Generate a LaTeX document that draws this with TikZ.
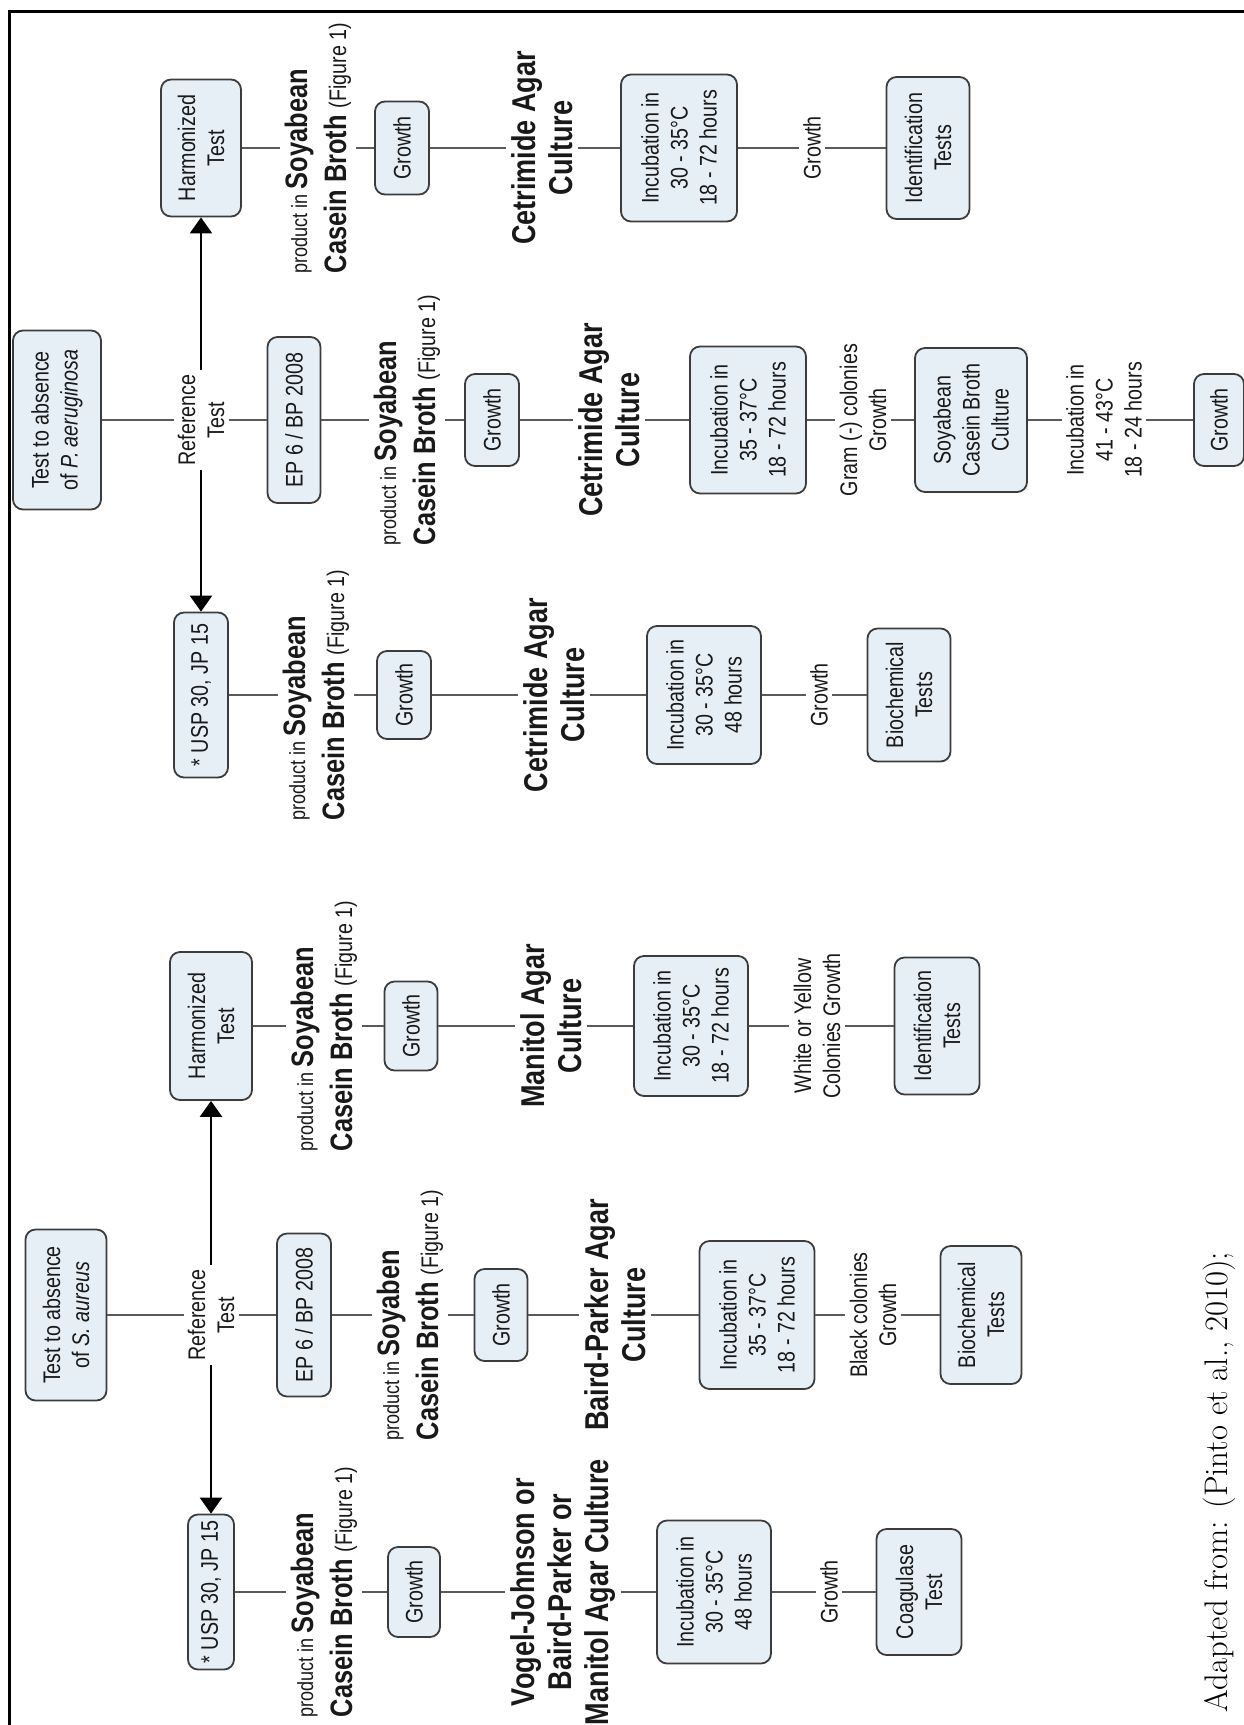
\documentclass[tikz,border=0pt]{standalone}
\usepackage{fontspec}
\setsansfont{Liberation Sans}[FakeStretch=0.82]
\usetikzlibrary{arrows.meta}
\definecolor{boxfill}{RGB}{231,239,246}
\definecolor{boxline}{RGB}{60,60,60}
\definecolor{connc}{RGB}{90,90,90}
\definecolor{ink}{RGB}{25,25,25}
\newcommand\prodtxt[1]{{\fontsize{22}{26}\selectfont product in }\textbf{#1}\\\textbf{Casein Broth} {\fontsize{24}{28}\selectfont(Figure 1)}}
\begin{document}
\begin{tikzpicture}[x=1pt,y=-1pt,
  box/.style={draw=boxline, fill=boxfill, line width=1.8pt, rounded corners=10pt, rotate=90, align=center, inner sep=2pt, text=ink, font=\sffamily\fontsize{24}{29}\selectfont},
  lbl/.style={rotate=90, align=center, inner sep=4pt, text=ink, font=\sffamily\fontsize{24}{29}\selectfont},
  big/.style={rotate=90, align=center, inner sep=5pt, text=ink, font=\sffamily\bfseries\fontsize{33}{37}\selectfont},
  prod/.style={rotate=90, align=left, inner sep=5pt, text=ink, font=\sffamily\fontsize{31}{39}\selectfont},
  ln/.style={draw=connc, line width=2pt},
  arr/.style={draw=black, line width=2.5pt, -{Triangle[width=22pt,length=16pt]}},
]
\useasboundingbox (0,0) rectangle (1244,1725);
\fill[white] (0,0) rectangle (1244,1725);
% frame
\coordinate (fTR) at (1244,11);
\coordinate (fTL) at (9,11);
\coordinate (fBL) at (9,1725);
\draw[line width=3pt, black] (fTR) -- (fTL) -- (fBL);

% ===== S. aureus: reference chain =====
\node[box, minimum width=171pt, minimum height=81pt] (saTest) at (66,1315) {Test to absence\\of \textit{S. aureus}};
\node[lbl] (saRef) at (211,1315) {Reference\\Test};
\node[box, minimum width=163pt, minimum height=54pt] (saEP) at (304,1315) {EP 6 / BP 2008};
\node[prod] (saEPp) at (410,1315) {\prodtxt{Soyaben}};
\node[box, minimum width=92pt, minimum height=53pt] (saEPg) at (501,1315) {Growth};
\node[big] (saBaird) at (615,1315) {Baird-Parker Agar\\Culture};
\node[box, minimum width=148pt, minimum height=115pt] (saEPi) at (757,1315) {Incubation in\\35 - 37°C\\18 - 72 hours};
\node[lbl] (saBlack) at (873,1315) {Black colonies\\Growth};
\node[box, minimum width=138pt, minimum height=81pt] (saBio) at (981,1315) {Biochemical\\Tests};

% S. aureus: USP chain
\node[box, minimum width=155pt, minimum height=46pt] (saUSP) at (211,1592) {* USP 30, JP 15};
\node[prod] (saUSPp) at (324,1592) {\prodtxt{Soyabean}};
\node[box, minimum width=90pt, minimum height=52pt] (saUSPg) at (414,1592) {Growth};
\node[big] (saVogel) at (563,1592) {Vogel-Johnson or\\Baird-Parker or\\Manitol Agar Culture};
\node[box, minimum width=143pt, minimum height=114pt] (saUSPi) at (714,1592) {Incubation in\\30 - 35°C\\48 hours};
\node[lbl] (saUSPgt) at (829,1592) {Growth};
\node[box, minimum width=126pt, minimum height=85pt] (saCoag) at (919,1592) {Coagulase\\Test};

% S. aureus: harmonized chain
\node[box, minimum width=148pt, minimum height=82pt] (saHarm) at (211,1026) {Harmonized\\Test};
\node[prod] (saHarmp) at (324,1026) {\prodtxt{Soyabean}};
\node[box, minimum width=89pt, minimum height=53pt] (saHarmg) at (411,1026) {Growth};
\node[big] (saMan) at (551,1026) {Manitol Agar\\Culture};
\node[box, minimum width=140pt, minimum height=114pt] (saHarmi) at (691,1026) {Incubation in\\30 - 35°C\\18 - 72 hours};
\node[lbl] (saWhite) at (817,1026) {White or Yellow\\Colonies Growth};
\node[box, minimum width=137pt, minimum height=85pt] (saId) at (937,1026) {Identification\\Tests};

% ===== P. aeruginosa: reference chain =====
\node[box, minimum width=179pt, minimum height=88pt] (paTest) at (57,420) {Test to absence\\of \textit{P. aeruginosa}};
\node[lbl] (paRef) at (201,420) {Reference\\Test};
\node[box, minimum width=166pt, minimum height=53pt] (paEP) at (294,420) {EP 6 / BP 2008};
\node[prod] (paEPp) at (407,420) {\prodtxt{Soyabean}};
\node[box, minimum width=92pt, minimum height=54pt] (paEPg) at (492,420) {Growth};
\node[big] (paEPc) at (609,420) {Cetrimide Agar\\Culture};
\node[box, minimum width=147pt, minimum height=116pt] (paEPi) at (748,420) {Incubation in\\35 - 37°C\\18 - 72 hours};
\node[lbl] (paGram) at (863,420) {Gram (-) colonies\\Growth};
\node[box, minimum width=144pt, minimum height=112pt] (paSCB) at (971,420) {Soyabean\\Casein Broth\\Culture};
\node[lbl] (paInc) at (1104,420) {Incubation in\\41 - 43°C\\18 - 24 hours};
\node[box, minimum width=92pt, minimum height=50pt] (paG2) at (1219,420) {Growth};

% P. aeruginosa: harmonized chain
\node[box, minimum width=137pt, minimum height=80pt] (paHarm) at (201,148) {Harmonized\\Test};
\node[prod] (paHarmp) at (318,148) {\prodtxt{Soyabean}};
\node[box, minimum width=93pt, minimum height=54pt] (paHarmg) at (402,148) {Growth};
\node[big] (paHarmc) at (542,148) {Cetrimide Agar\\Culture};
\node[box, minimum width=147pt, minimum height=116pt] (paHarmi) at (679,148) {Incubation in\\30 - 35°C\\18 - 72 hours};
\node[lbl] (paHarmgt) at (812,148) {Growth};
\node[box, minimum width=142pt, minimum height=83pt] (paId) at (928,148) {Identification\\Tests};

% P. aeruginosa: USP chain
\node[box, minimum width=165pt, minimum height=54pt] (paUSP) at (201,695) {* USP 30, JP 15};
\node[prod] (paUSPp) at (316,695) {\prodtxt{Soyabean}};
\node[box, minimum width=88pt, minimum height=54pt] (paUSPg) at (404,695) {Growth};
\node[big] (paUSPc) at (554,695) {Cetrimide Agar\\Culture};
\node[box, minimum width=138pt, minimum height=114pt] (paUSPi) at (704,695) {Incubation in\\30 - 35°C\\48 hours};
\node[lbl] (paUSPgt) at (819,695) {Growth};
\node[box, minimum width=133pt, minimum height=83pt] (paBio) at (909,695) {Biochemical\\Tests};

% connectors
\foreach \a/\b in {saTest/saRef, saRef/saEP, saEP/saEPp, saEPp/saEPg, saEPg/saBaird, saBaird/saEPi, saEPi/saBlack, saBlack/saBio,
  saUSP/saUSPp, saUSPp/saUSPg, saUSPg/saVogel, saVogel/saUSPi, saUSPi/saUSPgt, saUSPgt/saCoag,
  saHarm/saHarmp, saHarmp/saHarmg, saHarmg/saMan, saMan/saHarmi, saHarmi/saWhite, saWhite/saId,
  paTest/paRef, paRef/paEP, paEP/paEPp, paEPp/paEPg, paEPg/paEPc, paEPc/paEPi, paEPi/paGram, paGram/paSCB, paSCB/paInc, paInc/paG2,
  paHarm/paHarmp, paHarmp/paHarmg, paHarmg/paHarmc, paHarmc/paHarmi, paHarmi/paHarmgt, paHarmgt/paId,
  paUSP/paUSPp, paUSPp/paUSPg, paUSPg/paUSPc, paUSPc/paUSPi, paUSPi/paUSPgt, paUSPgt/paBio}
  {\draw[ln] (\a) -- (\b);}

\draw[arr] (saRef) -- (saHarm);
\draw[arr] (saRef) -- (saUSP);
\draw[arr] (paRef) -- (paHarm);
\draw[arr] (paRef) -- (paUSP);

% caption
\node[rotate=90, inner sep=0pt, text=black] (cap) at (1219,1482) {\resizebox{460pt}{!}{\rmfamily\fontsize{30}{36}\selectfont Adapted from: (Pinto et al., 2010);}};
\end{tikzpicture}
\end{document}
